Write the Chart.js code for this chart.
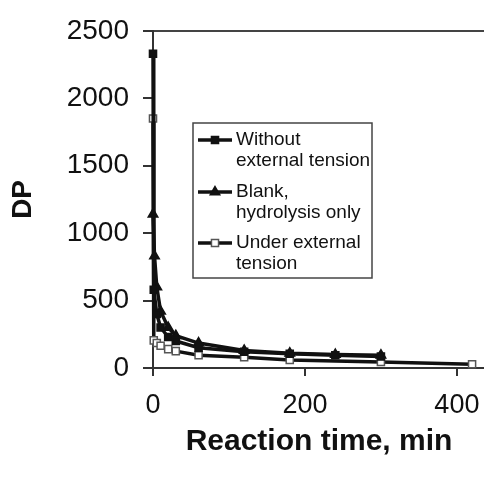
<!DOCTYPE html>
<html>
<head>
<meta charset="utf-8">
<script src="https://cdn.jsdelivr.net/npm/chart.js@4.4.0/dist/chart.umd.min.js"></script>
<style>
  body { margin: 0; background: #fff; overflow: hidden; }
  #wrap { width: 484px; height: 481px; overflow: hidden; }
</style>
</head>
<body>
<div id="wrap"><canvas id="myChart" width="493" height="481"></canvas></div>
<script>
// data
const timesWithout = [0, 1, 5, 10, 20, 30, 60, 120, 180, 240, 300]
const dpWithout = [2330, 580, 400, 300, 230, 200, 150, 120, 105, 95, 85]
const timesBlank = [0, 2, 5, 10, 20, 30, 60, 120, 180, 240, 300]
const dpBlank = [1140, 830, 600, 420, 300, 240, 185, 130, 110, 100, 95]
const timesUnder = [0, 1, 5, 10, 20, 30, 60, 120, 180, 300, 420]
const dpUnder = [1850, 205, 185, 165, 140, 125, 95, 80, 60, 45, 28]
const xTicks = [0, 200, 400]
const yTicks = [0, 500, 1000, 1500, 2000, 2500]
const legendLabels = [['Without', 'external tension'], ['Blank,', 'hydrolysis only'], ['Under external', 'tension']]

const pts = (xs, ys) => xs.map((x, i) => ({ x: x, y: ys[i] }))
const font = 'Liberation Sans, Arial, sans-serif'

const common = {
    borderColor: '#111',
    borderWidth: 3.5,
    pointBorderColor: '#111',
    pointBorderWidth: 1.5,
    pointRadius: 5,
    tension: 0,
    clip: false
}

const datasets = [
    Object.assign({}, common, { label: legendLabels[0].join(' '), data: pts(timesWithout, dpWithout), pointStyle: 'rect', pointBackgroundColor: '#111' }),
    Object.assign({}, common, { label: legendLabels[1].join(' '), data: pts(timesBlank, dpBlank), pointStyle: 'triangle', pointBackgroundColor: '#111', pointRadius: 5.5 }),
    Object.assign({}, common, { label: legendLabels[2].join(' '), data: pts(timesUnder, dpUnder), pointStyle: 'rect', pointBackgroundColor: '#fff', pointBorderColor: '#555' })
]

// legend box with two-line labels
const boxLegend = {
    id: 'boxLegend',
    afterDraw(chart) {
        const ctx = chart.ctx
        const left = 193, top = 123, right = 372, bottom = 278
        ctx.save()
        ctx.strokeStyle = '#444'
        ctx.lineWidth = 1.5
        ctx.strokeRect(left, top, right - left, bottom - top)
        const rows = [140, 192, 243]
        ctx.font = '19px ' + font
        ctx.textBaseline = 'middle'
        rows.forEach((y, i) => {
            const ds = chart.data.datasets[i]
            ctx.strokeStyle = '#111'
            ctx.lineWidth = 3.5
            ctx.beginPath()
            ctx.moveTo(198, y)
            ctx.lineTo(232, y)
            ctx.stroke()
            ctx.fillStyle = ds.pointBackgroundColor
            ctx.strokeStyle = ds.pointBorderColor
            ctx.lineWidth = ds.pointBorderWidth
            Chart.helpers.drawPoint(ctx, { pointStyle: ds.pointStyle, radius: ds.pointRadius, rotation: 0, borderWidth: ds.pointBorderWidth }, 215, y)
            ctx.fillStyle = '#111'
            ctx.fillText(legendLabels[i][0], 236, y)
            ctx.fillText(legendLabels[i][1], 236, y + 21)
        })
        ctx.restore()
    }
}

let myChart = document.getElementById('myChart').getContext('2d')
let dpChart = new Chart(myChart, {
    type: 'line',
    data: { datasets: datasets },
    options: {
        responsive: false,
        animation: false,
        layout: { padding: { top: 27, right: 0, bottom: 0, left: 0 } },
        plugins: {
            legend: { display: false },
            tooltip: { enabled: false }
        },
        scales: {
            x: {
                type: 'linear',
                min: 0,
                max: 437,
                afterBuildTicks: s => { s.ticks = xTicks.map(v => ({ value: v })) },
                afterFit: s => { s.height = 113 },
                border: { color: '#333', width: 2 },
                grid: { drawOnChartArea: false, tickLength: 8, tickColor: '#333', lineWidth: 2 },
                ticks: { color: '#111', font: { family: font, size: 27 }, padding: 13, maxRotation: 0, callback: v => String(v) },
                title: {
                    display: true,
                    text: 'Reaction time, min',
                    color: '#111',
                    font: { family: font, size: 30, weight: 'bold' },
                    padding: { top: 0, bottom: 21 }
                }
            },
            y: {
                min: 0,
                max: 2500,
                afterBuildTicks: s => { s.ticks = yTicks.map(v => ({ value: v })) },
                afterFit: s => { s.width = 153 },
                border: { color: '#333', width: 2 },
                grid: {
                    color: c => (c.tick && c.tick.value === 2500 ? '#444' : 'transparent'),
                    tickColor: '#333',
                    tickLength: 10,
                    lineWidth: 2
                },
                ticks: { color: '#111', font: { family: font, size: 28 }, padding: 14, callback: v => String(v) },
                title: {
                    display: true,
                    text: 'DP',
                    color: '#111',
                    font: { family: font, size: 28, weight: 'bold' },
                    padding: { top: 6, bottom: 0 }
                }
            }
        }
    },
    plugins: [boxLegend]
})
</script>
</body>
</html>
